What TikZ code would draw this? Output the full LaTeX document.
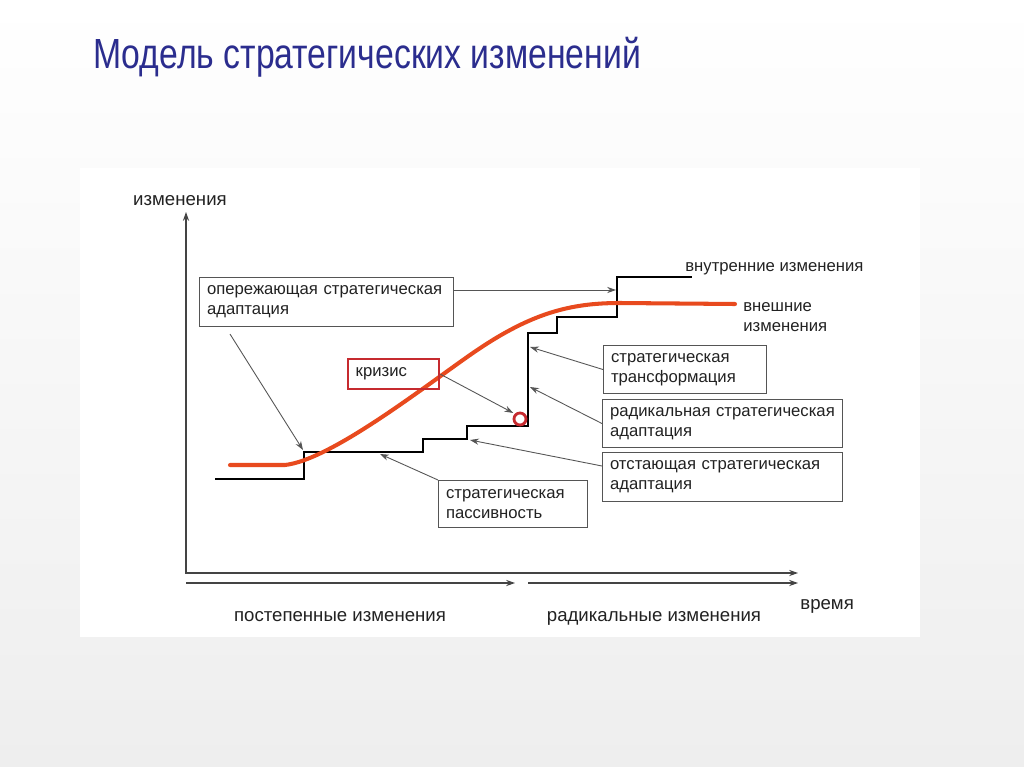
\documentclass[tikz,border=0pt]{standalone}
\usepackage{fontspec}
\setmainfont{Liberation Sans}
\newfontfamily\titlefont[FakeStretch=0.8]{Liberation Sans}
\usepackage{xcolor}
\usepackage{tikz}
\usetikzlibrary{positioning, arrows.meta}
\definecolor{titleblue}{HTML}{2B2D8E}
\definecolor{curvered}{HTML}{E84A1E}
\definecolor{crisisred}{HTML}{C62A2F}
\definecolor{boxgray}{HTML}{555555}
\definecolor{textgray}{HTML}{222222}
\definecolor{slidegray}{HTML}{EEEEEE}

\begin{document}
\begin{tikzpicture}[x=0.02cm, y=-0.02cm,
    every node/.style={text=textgray, inner sep=0pt,
                       font=\fontsize{9.5}{11.3}\selectfont},
    labelbox/.style={draw=boxgray, line width=0.6pt, anchor=north west,
                     align=left, inner xsep=0.15cm, inner ysep=0pt},
    pointer/.style={draw=boxgray, line width=0.5pt,
                    -{Stealth[length=5pt, width=3.5pt]}},
    stairs/.style={draw=black, line width=0.8pt},
    axis/.style={draw=boxgray!80!black, line width=0.7pt,
                 -{Stealth[length=5pt, width=3.5pt]}},
    axislabel/.style={font=\fontsize{10.6}{13}\selectfont, anchor=base}]

    \useasboundingbox (0,0) rectangle (1024,767);
    \fill[top color=white, bottom color=slidegray] (0,0) rectangle (1024,767);
    \fill[white] (80,168) rectangle (920,637);

    \node[anchor=base west, text=titleblue,
          font=\titlefont\fontsize{24}{28}\selectfont] (title) at (93,69)
          {Модель стратегических изменений};

    \coordinate (origin) at (186,573);
    \coordinate (ytop) at (186,212);
    \coordinate (xend) at (798,573);
    \coordinate (gstart) at (186,583);
    \coordinate (gend) at (515,583);
    \coordinate (rstart) at (528,583);
    \coordinate (rend) at (798,583);
    \draw[axis, {Stealth[length=5pt, width=3.5pt]}-{Stealth[length=5pt, width=3.5pt]}]
        (ytop) -- (origin) -- (xend);
    \draw[axis] (gstart) -- (gend);
    \draw[axis] (rstart) -- (rend);

    \node[axislabel] (ylabel) at (180,205) {изменения};
    \node[axislabel, anchor=base west] (time) at (800,609) {время};
    \node[axislabel] (gradual) at (340,621) {постепенные изменения};
    \node[axislabel] (radical) at (654,621) {радикальные изменения};

    \draw[stairs] (215,479) -- (304,479) -- (304,452) -- (423,452) -- (423,439)
        -- (467,439) -- (467,426) -- (528,426) -- (528,333) -- (557,333)
        -- (557,317) -- (617,317) -- (617,277) -- (692,277);
    \node[anchor=base west] (internal) at (685,271) {внутренние изменения};

    \coordinate (extstart) at (230,465);
    \coordinate (extend) at (735,304);
    \draw[curvered, line width=2.3pt, line cap=round]
        (extstart) -- (285,465) .. controls (330,460) and (420,390) .. (470,355)
        .. controls (530,313) and (570,303) .. (620,303) -- (extend);
    \node[right=0.16cm of extend, yshift=-0.26cm, align=left] (external)
        {внешние\\изменения};

    \coordinate (tiplead) at (303,450);
    \coordinate (tipinner) at (616,290);
    \coordinate (tippassive) at (380,454);
    \coordinate (tiplag) at (470,440);
    \coordinate (tiptrans) at (530,347);
    \coordinate (tiprad) at (530,387);

    \node[circle, draw=crisisred, line width=1.6pt, minimum size=0.24cm]
        (crisispt) at (520,419) {};

    \node[labelbox, text width=4.78cm, minimum height=0.98cm] (lead) at (199,277)
        {опережающая~стратегическая\\адаптация};
    \node[labelbox, draw=crisisred, line width=1.4pt, text width=1.52cm,
          minimum height=0.6cm] (crisis) at (347,358) {кризис};
    \node[labelbox, text width=2.68cm, minimum height=0.94cm] (passive) at (438,480)
        {стратегическая\\пассивность};
    \node[labelbox, text width=2.96cm, minimum height=0.96cm] (trans) at (603,345)
        {стратегическая\\трансформация};
    \node[labelbox, text width=4.5cm, minimum height=0.96cm] (rad) at (602,399)
        {радикальная~стратегическая\\адаптация};
    \node[labelbox, text width=4.5cm, minimum height=0.98cm] (lag) at (602,452)
        {отстающая~стратегическая\\адаптация};

    \draw[pointer] (lead.east |- tipinner) -- (tipinner);
    \draw[pointer] (lead.south west) ++(31,7) -- (tiplead);
    \draw[pointer, shorten >=1pt] (crisis.east) -- (crisispt.north west);
    \draw[pointer] (passive.north west) -- (tippassive);
    \draw[pointer] (trans.west) -- (tiptrans);
    \draw[pointer] (rad.west) -- (tiprad);
    \draw[pointer] (lag.north west) ++(0,14) -- (tiplag);
\end{tikzpicture}
\end{document}
